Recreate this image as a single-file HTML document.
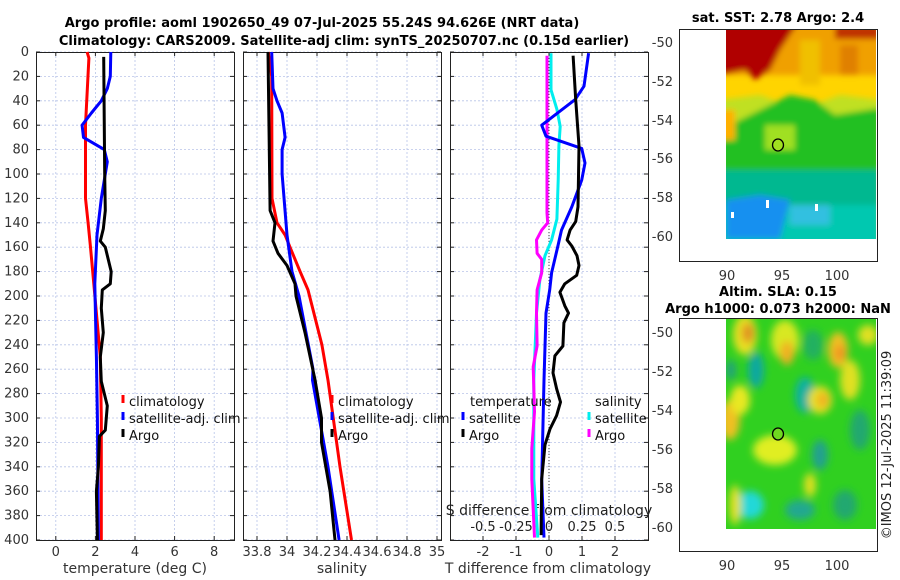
<!DOCTYPE html>
<html><head><meta charset="utf-8">
<style>
body{margin:0;background:#fff;}
svg{display:block;font-family:"DejaVu Sans","Liberation Sans",sans-serif;}
</style></head>
<body>
<svg id="c" width="900" height="580" viewBox="0 0 900 580">
<defs>
<filter id="bl" x="-50%" y="-50%" width="200%" height="200%"><feGaussianBlur stdDeviation="4"/></filter>
<filter id="bl2" filterUnits="userSpaceOnUse" x="700" y="0" width="200" height="260"><feGaussianBlur stdDeviation="3"/></filter>
<clipPath id="cm1"><rect x="726" y="29" width="150" height="210"/></clipPath>
<clipPath id="cm2"><rect x="726" y="318" width="150" height="211"/></clipPath>
</defs>
<text x="322" y="27" text-anchor="middle" font-size="13" font-weight="bold">Argo profile: aoml 1902650_49 07-Jul-2025 55.24S 94.626E (NRT data)</text>
<text x="344" y="45" text-anchor="middle" font-size="13" font-weight="bold">Climatology: CARS2009. Satellite-adj clim: synTS_20250707.nc (0.15d earlier)</text>
<g id="plots"></g>
<!-- top map -->
<g>
<text x="778" y="22" text-anchor="middle" font-size="13" font-weight="bold">sat. SST: 2.78 Argo: 2.4</text>
<g clip-path="url(#cm1)">
<rect x="726" y="29" width="150" height="210" fill="#ffd400"/>
<g filter="url(#bl2)">
<rect x="720" y="20" width="170" height="55" fill="#f0a000"/>
<polygon points="720,20 800,20 780,50 770,70 755,80 745,70 720,75" fill="#b00000"/>
<rect x="835" y="25" width="45" height="14" fill="#c03000"/>
<rect x="840" y="45" width="18" height="30" fill="#e08000"/>
<rect x="800" y="40" width="20" height="45" fill="#f0c000"/>
<polygon points="720,100 760,95 800,110 840,95 880,100 880,130 720,130" fill="#c0e020"/>
<polygon points="760,110 790,95 815,100 835,115 880,108 880,175 720,175 720,130" fill="#20c020"/>
<rect x="765" y="125" width="30" height="25" fill="#a0e020"/>
<rect x="720" y="110" width="15" height="30" fill="#ffb000"/>
<rect x="720" y="170" width="160" height="45" fill="#00b890"/>
<rect x="720" y="205" width="160" height="40" fill="#00c8b0"/>
<polygon points="726,200 760,195 790,200 780,239 726,239" fill="#1890f0"/>
<rect x="790" y="205" width="40" height="20" fill="#30c0e0"/>
</g>
<rect x="766" y="200" width="3" height="8" fill="#fff"/>
<rect x="815" y="204" width="3" height="7" fill="#fff"/>
<rect x="731" y="212" width="3" height="6" fill="#fff"/>
</g>
<rect x="679.5" y="29.5" width="198" height="232" fill="none" stroke="#222"/>
<ellipse cx="778" cy="145" rx="5.5" ry="6" fill="#a0e020" stroke="#000" stroke-width="1.3"/>
<g font-size="13" fill="#333">
<text x="673" y="47" text-anchor="end">-50</text><text x="673" y="86" text-anchor="end">-52</text><text x="673" y="125" text-anchor="end">-54</text><text x="673" y="163" text-anchor="end">-56</text><text x="673" y="202" text-anchor="end">-58</text><text x="673" y="241" text-anchor="end">-60</text>
<text x="727" y="280" text-anchor="middle">90</text><text x="782" y="280" text-anchor="middle">95</text><text x="837" y="280" text-anchor="middle">100</text>
</g>
</g>
<!-- bottom map -->
<g>
<text x="778" y="296" text-anchor="middle" font-size="13" font-weight="bold">Altim. SLA: 0.15</text>
<text x="778" y="313" text-anchor="middle" font-size="13" font-weight="bold">Argo h1000: 0.073 h2000: NaN</text>
<g clip-path="url(#cm2)">
<rect x="726" y="318" width="150" height="211" fill="#30d020"/>
<g filter="url(#bl)">
<ellipse cx="745" cy="335" rx="12" ry="20" fill="#e8e020"/>
<ellipse cx="748" cy="333" rx="6" ry="10" fill="#e09020"/>
<ellipse cx="785" cy="340" rx="14" ry="20" fill="#d8e820"/>
<ellipse cx="787" cy="353" rx="7" ry="12" fill="#f0b020"/>
<ellipse cx="838" cy="350" rx="10" ry="18" fill="#f0c020"/>
<ellipse cx="840" cy="353" rx="5" ry="8" fill="#f09020"/>
<ellipse cx="868" cy="335" rx="10" ry="10" fill="#e0e020"/>
<ellipse cx="756" cy="370" rx="8" ry="18" fill="#10a8a0"/>
<ellipse cx="731" cy="370" rx="5" ry="10" fill="#20a080"/>
<ellipse cx="805" cy="395" rx="10" ry="18" fill="#10b0a0"/>
<ellipse cx="813" cy="345" rx="10" ry="15" fill="#20b060"/>
<ellipse cx="730" cy="420" rx="10" ry="20" fill="#f0c020"/>
<ellipse cx="740" cy="400" rx="10" ry="15" fill="#e8e820"/>
<ellipse cx="820" cy="400" rx="12" ry="14" fill="#e8e020"/>
<ellipse cx="823" cy="400" rx="6" ry="8" fill="#f0b020"/>
<ellipse cx="850" cy="380" rx="10" ry="20" fill="#e0e020"/>
<ellipse cx="775" cy="450" rx="22" ry="15" fill="#e0ee20"/>
<ellipse cx="820" cy="455" rx="8" ry="15" fill="#20a090"/>
<ellipse cx="860" cy="430" rx="10" ry="20" fill="#20a870"/>
<ellipse cx="750" cy="505" rx="14" ry="14" fill="#20d8d8"/>
<ellipse cx="800" cy="510" rx="15" ry="10" fill="#20a890"/>
<ellipse cx="845" cy="505" rx="12" ry="15" fill="#20a870"/>
<ellipse cx="810" cy="485" rx="6" ry="12" fill="#e0e020"/>
<ellipse cx="735" cy="505" rx="6" ry="20" fill="#e0e020"/>
</g>
</g>
<rect x="679.5" y="318.5" width="198" height="233" fill="none" stroke="#222"/>
<ellipse cx="778" cy="434" rx="5.5" ry="6" fill="#70d820" stroke="#000" stroke-width="1.3"/>
<g font-size="13" fill="#333">
<text x="673" y="337" text-anchor="end">-50</text><text x="673" y="376" text-anchor="end">-52</text><text x="673" y="415" text-anchor="end">-54</text><text x="673" y="454" text-anchor="end">-56</text><text x="673" y="493" text-anchor="end">-58</text><text x="673" y="532" text-anchor="end">-60</text>
<text x="727" y="570" text-anchor="middle">90</text><text x="782" y="570" text-anchor="middle">95</text><text x="837" y="570" text-anchor="middle">100</text>
</g>
</g>
<text transform="translate(891,445) rotate(-90)" text-anchor="middle" font-size="13" fill="#222">©IMOS 12-Jul-2025 11:39:09</text>
</svg>
<script>
// ---- data ----
const tempClimDepth=[0,5,60,120,140,160,190,250,300,400];
const tempClimVal=[1.58,1.67,1.5,1.5,1.63,1.75,1.92,2.25,2.3,2.3];
const tempSatDepth=[0,20,30,40,50,60,70,80,90,100,120,150,190,250,300,400];
const tempSatVal=[2.78,2.75,2.6,2.3,1.8,1.33,1.4,2.45,2.6,2.5,2.3,2.08,1.97,2.05,2.1,2.15];
const tempArgoDepth=[4,100,130,145,155,160,180,190,195,210,230,250,270,290,310,315,340,360,400];
const tempArgoVal=[2.42,2.47,2.5,2.4,2.25,2.5,2.8,2.75,2.35,2.3,2.4,2.25,2.3,2.6,2.5,2.2,2.15,2.05,2.1];
const salClimDepth=[0,20,120,140,150,160,180,195,240,269,340,400];
const salClimVal=[33.875,33.898,33.9,33.933,33.987,34.02,34.087,34.14,34.233,34.273,34.353,34.43];
const salSatDepth=[0,30,40,50,70,80,100,150,180,200,260,269,340,400];
const salSatVal=[33.898,33.907,33.933,33.967,33.987,33.967,33.967,34.0,34.033,34.08,34.173,34.17,34.273,34.347];
const salArgoDepth=[0,130,140,155,165,175,190,200,230,269,300,320,360,400];
const salArgoVal=[33.873,33.887,33.92,33.907,33.94,34.0,34.053,34.06,34.12,34.187,34.23,34.23,34.287,34.32];
const dTSatDepth=[1,28,39,60,69,79,91,105,127,146,159,181,195,214,269,351,398];
const dTSatVal=[1.2,1.06,0.79,-0.22,-0.09,0.99,1.09,0.99,0.69,0.38,0.27,0.08,0.02,-0.09,-0.15,-0.22,-0.15];
const dTArgoDepth=[3,39,77,127,139,146,154,159,167,175,183,190,197,208,214,222,241,249,263,276,287,298,309,322,350,396];
const dTArgoVal=[0.73,0.81,0.91,0.88,0.81,0.64,0.55,0.69,0.85,0.91,0.84,0.48,0.33,0.48,0.59,0.45,0.42,0.18,0.12,0.23,0.35,0.23,0.03,-0.12,-0.22,-0.24];
const dSSatDepth=[1,31,47,61,77,105,137,154,167,187,214,269,350,398];
const dSSatVal=[0.015,0.015,0.06,0.085,0.075,0.07,0.06,0.02,-0.03,-0.07,-0.095,-0.115,-0.115,-0.085];
const dSArgoDepth=[3,132,140,146,154,165,170,181,195,214,241,258,295,325,350,398];
const dSArgoVal=[-0.015,-0.015,-0.01,-0.055,-0.095,-0.09,-0.055,-0.055,-0.09,-0.095,-0.09,-0.12,-0.11,-0.13,-0.13,-0.11];
const depthTicks=[0,20,40,60,80,100,120,140,160,180,200,220,240,260,280,300,320,340,360,380,400];
const tempTicks=[0,2,4,6,8];
const salTicks=[33.8,34,34.2,34.4,34.6,34.8,35];
const dTTicks=[-2,-1,0,1,2];
const dSTicks=[-0.5,-0.25,0,0.25,0.5];

// ---- axes ----
const Y0=52,Y1=540;
const yD=d=>Y0+(Y1-Y0)*d/400;
function lin(d0,d1,p0,p1){return v=>p0+(v-d0)*(p1-p0)/(d1-d0);}
const panels=[{x0:36,x1:234},{x0:243,x1:441},{x0:450,x1:648}];
const xT=lin(-1,9,36,234);
const xS=lin(33.8,34.8,257,407);
const xdT=lin(-3,3,450,648);
const xdS=lin(-0.75,0.75,450,648);
const NS='http://www.w3.org/2000/svg';
const G=document.getElementById('plots');
function mk(tag,at,parent){const e=document.createElementNS(NS,tag);for(const k in at)e.setAttribute(k,at[k]);(parent||G).appendChild(e);return e;}
function txt(s,x,y,at){const e=mk('text',Object.assign({x:x,y:y,'font-size':13,fill:'#333'},at||{}));e.textContent=s;return e;}

const xGrids=[tempTicks.map(xT),salTicks.map(xS),dTTicks.map(xdT)];
const pnames=['temperature-panel','salinity-panel','difference-panel'];
panels.forEach((p,i)=>{
  const g=mk('g',{});
  
  
  depthTicks.forEach(d=>{
    const l=mk('line',{x1:p.x0,x2:p.x1,y1:yD(d),y2:yD(d),stroke:'#b8c4e8','stroke-width':0.8,'stroke-dasharray':'2,2'},g);
    
    
    mk('line',{x1:p.x0,x2:p.x0+4,y1:yD(d),y2:yD(d),stroke:'#222'},g);
    mk('line',{x1:p.x1,x2:p.x1-4,y1:yD(d),y2:yD(d),stroke:'#222'},g);
  });
  xGrids[i].forEach(x=>{
    const l=mk('line',{x1:x,x2:x,y1:Y0,y2:Y1,stroke:'#b8c4e8','stroke-width':0.8,'stroke-dasharray':'2,2'},g);
    
    
    mk('line',{x1:x,x2:x,y1:Y1,y2:Y1-4,stroke:'#222'},g);
    mk('line',{x1:x,x2:x,y1:Y0,y2:Y0+4,stroke:'#222'},g);
  });
  const r=mk('rect',{x:p.x0+0.5,y:Y0+0.5,width:p.x1-p.x0,height:Y1-Y0,fill:'none',stroke:'#222'},g);
  
  
});
const zl=mk('line',{x1:xdT(0),x2:xdT(0),y1:Y0,y2:Y1,stroke:'#444','stroke-width':1,'stroke-dasharray':'1,2'});



depthTicks.forEach(d=>{
  const t=txt(String(d),29,yD(d)+4,{'text-anchor':'end'});
  
  
});
tempTicks.forEach(v=>{const t=txt(String(v),xT(v),556,{'text-anchor':'middle'});});
salTicks.forEach(v=>{const t=txt(String(v),xS(v),556,{'text-anchor':'middle'});});
dTTicks.forEach(v=>{const t=txt(String(v),xdT(v),556,{'text-anchor':'middle'});});
dSTicks.forEach(v=>{const t=txt(String(v),xdS(v),531,{'text-anchor':'middle',fill:'#222'});});
let t;
t=txt('temperature (deg C)',135,573,{'text-anchor':'middle','font-size':14});
t=txt('salinity',342,573,{'text-anchor':'middle','font-size':14});
t=txt('T difference from climatology',548,573,{'text-anchor':'middle','font-size':14});
t=txt('S difference from climatology',549,515,{'text-anchor':'middle',fill:'#222','font-size':14});

function series(ds,vs,sx,color,name){
  const d=ds.map((dd,i)=>(i?'L':'M')+sx(vs[i]).toFixed(1)+','+yD(dd).toFixed(1)).join('');
  const p=mk('path',{d:d,fill:'none',stroke:color,'stroke-width':3,'stroke-linejoin':'round'});
  
  
}
series(tempClimDepth,tempClimVal,xT,'#ff0000','temperature-climatology-line');
series(tempSatDepth,tempSatVal,xT,'#0000ff','temperature-satellite-line');
series(tempArgoDepth,tempArgoVal,xT,'#000','temperature-argo-line');
series(salClimDepth,salClimVal,xS,'#ff0000','salinity-climatology-line');
series(salSatDepth,salSatVal,xS,'#0000ff','salinity-satellite-line');
series(salArgoDepth,salArgoVal,xS,'#000','salinity-argo-line');
series(dSSatDepth,dSSatVal,xdS,'#00eeee','s-diff-satellite-line');
series(dSArgoDepth,dSArgoVal,xdS,'#ff00ff','s-diff-argo-line');
series(dTSatDepth,dTSatVal,xdT,'#0000ff','t-diff-satellite-line');
series(dTArgoDepth,dTArgoVal,xdT,'#000','t-diff-argo-line');

function legend(x,y,color,label,name){
  const g=mk('g',{});
  
  
  mk('line',{x1:x,x2:x,y1:y-11,y2:y-3,stroke:color,'stroke-width':3},g);
  const tt=mk('text',{x:x+6,y:y,'font-size':13,fill:'#111'},g);tt.textContent=label;
}
legend(123,406,'#ff0000','climatology','legend-temp-climatology');
legend(123,423,'#0000ff','satellite-adj. clim','legend-temp-satellite');
legend(123,440,'#000','Argo','legend-temp-argo');
legend(332,406,'#ff0000','climatology','legend-sal-climatology');
legend(332,423,'#0000ff','satellite-adj. clim','legend-sal-satellite');
legend(332,440,'#000','Argo','legend-sal-argo');
t=txt('temperature',470,406,{'font-size':13,fill:'#111'});
t=txt('salinity',595,406,{'font-size':13,fill:'#111'});
legend(463,423,'#0000ff','satellite','legend-tdiff-satellite');
legend(463,440,'#000','Argo','legend-tdiff-argo');
legend(589,423,'#00eeee','satellite','legend-sdiff-satellite');
legend(589,440,'#ff00ff','Argo','legend-sdiff-argo');
</script>
</body></html>
